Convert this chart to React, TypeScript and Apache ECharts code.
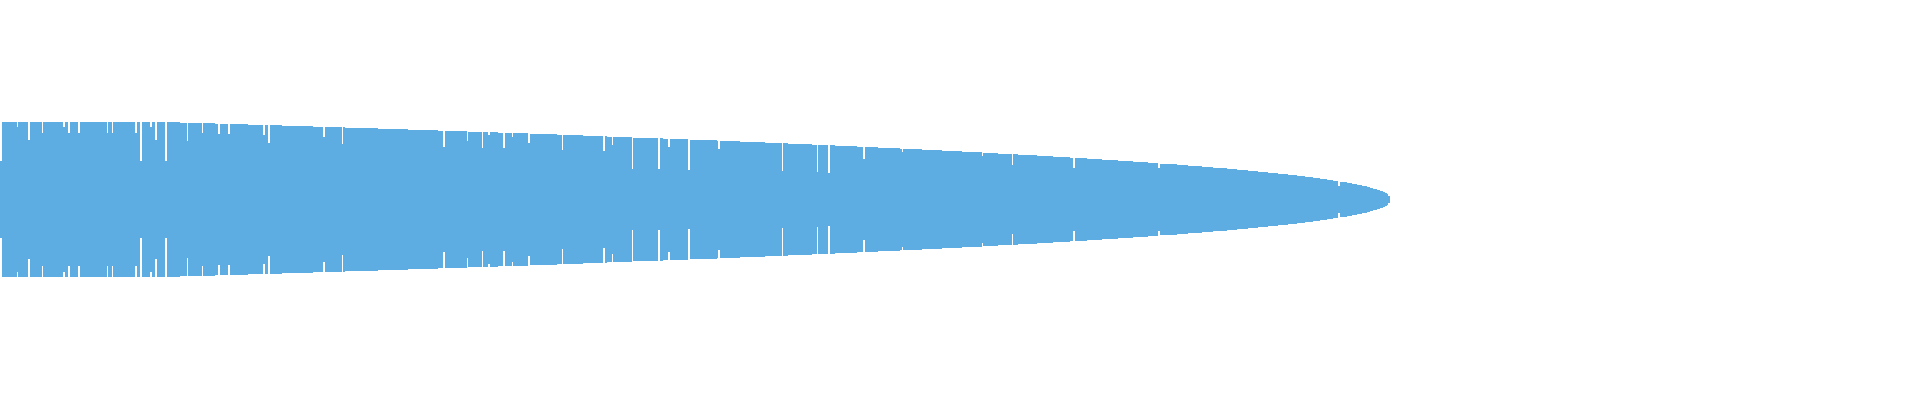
import { useEffect, useRef } from "react";
import * as echarts from "echarts";

// Band thickness, left to right: each level and the number of bars that hold it
const bandValues = [
  155, 153, 151, 149, 147, 145, 143, 141, 139, 137, 135, 133, 131, 129, 127,
  125, 123, 121, 119, 117, 115, 113, 111, 109, 107, 105, 103, 101, 99, 97, 95,
  93, 91, 89, 87, 85, 83, 81, 79, 77, 75, 73, 71, 69, 67, 65, 63, 61, 59, 57,
  55, 53, 51, 49, 47, 45, 43, 41, 39, 37, 35, 33, 31, 29, 27, 25, 23, 21, 19,
  17, 15, 13, 11, 7,
];
const bandLengths = [
  108, 21, 20, 20, 19, 19, 20, 18, 18, 18, 18, 19, 16, 16, 14, 16, 18, 16, 16,
  14, 15, 14, 14, 14, 13, 13, 13, 13, 12, 12, 12, 10, 12, 11, 10, 10, 10, 9, 10,
  9, 9, 7, 10, 7, 8, 7, 8, 6, 7, 6, 6, 6, 6, 5, 5, 5, 4, 4, 4, 4, 4, 3, 3, 3, 3,
  2, 2, 2, 2, 2, 1, 1, 1, 1,
];

// Bars that fall short of the band (index of the bar, its thickness)
const dipBars = [
  0, 10, 17, 25, 38, 41, 47, 64, 67, 81, 84, 90, 93, 99, 112, 121, 131, 137,
  158, 161, 194, 205, 266, 280, 289, 293, 302, 307, 317, 337, 362, 367, 379,
  395, 401, 413, 431, 469, 490, 497, 518, 541, 589, 607, 644, 695, 803,
];
const dipValues = [
  77, 145, 119, 133, 145, 133, 133, 133, 133, 133, 77, 145, 119, 77, 117, 133,
  131, 131, 129, 113, 125, 111, 105, 117, 103, 129, 103, 125, 113, 99, 97, 109,
  61, 61, 105, 59, 101, 57, 55, 53, 81, 95, 87, 69, 63, 63, 27,
];

const BAR_COLOR = "#5dade2";

export default function App() {
  const chartRef = useRef<HTMLDivElement>(null);

  useEffect(() => {
    if (!chartRef.current) return;

    const chart = echarts.init(chartRef.current, undefined, { renderer: "svg" });

    // Expand the levels into one value per bar, then put the dips in
    const thickness: number[] = [];
    bandValues.forEach((value, i) => {
      for (let k = 0; k < bandLengths[i]; k++) thickness.push(value);
    });
    dipBars.forEach((bar, i) => {
      thickness[bar] = dipValues[i];
    });
    const categories = thickness.map((_, i) => String(i + 1));

    chart.setOption({
      animation: false,
      tooltip: { show: false },
      grid: { left: 0, top: 0, width: 1390, height: 399 },
      xAxis: {
        type: "category",
        data: categories,
        show: false,
      },
      // symmetric axis, so each half of a bar is drawn above / below the middle
      yAxis: {
        type: "value",
        min: -399,
        max: 399,
        show: false,
      },
      series: [
        {
          name: "upper",
          type: "bar",
          stack: "band",
          silent: true,
          barCategoryGap: "0%",
          itemStyle: { color: BAR_COLOR },
          data: thickness,
        },
        {
          name: "lower",
          type: "bar",
          stack: "band",
          silent: true,
          barCategoryGap: "0%",
          itemStyle: { color: BAR_COLOR },
          data: thickness.map((v) => -v),
        },
      ],
    });

    return () => {
      chart.dispose();
    };
  }, []);

  return (
    <>
      <style>{"body{margin:0} .band svg path{shape-rendering:crispEdges}"}</style>
      <div ref={chartRef} className="band" style={{ width: 1920, height: 400 }} />
    </>
  );
}
